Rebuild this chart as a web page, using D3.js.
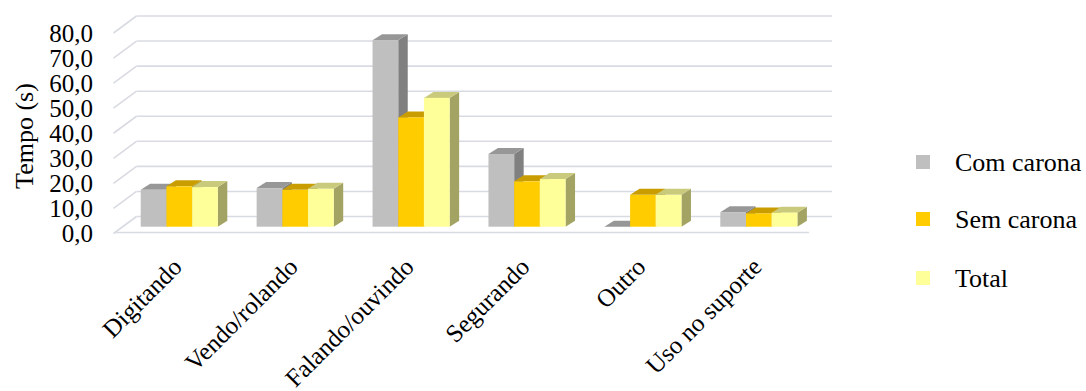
<!DOCTYPE html>
<html>
<head>
<meta charset="utf-8">
<script src="https://cdn.jsdelivr.net/npm/d3@7"></script>
<style>
  html, body { margin: 0; padding: 0; background: #fff; }
  svg { display: block; }
</style>
</head>
<body>
<svg id="chart" width="1086" height="391"></svg>
<script>
// Activity categories and mean times (s) per group
const categories = ["Digitando", "Vendo/rolando", "Falando/ouvindo", "Segurando", "Outro", "Uso no suporte"];
const seriesNames = ["Com carona", "Sem carona", "Total"];
const comCarona = [14.7, 15.4, 74.4, 29.0, 0.0, 5.8];
const semCarona = [16.1, 14.7, 43.6, 18.1, 12.7, 5.3];
const total     = [15.8, 15.1, 51.4, 19.0, 12.7, 5.6];
const yTicks = [0, 10, 20, 30, 40, 50, 60, 70, 80];

const seriesValues = [comCarona, semCarona, total];
const faceColors = [
  { front: "#BFBFBF", top: "#979797", side: "#808080" },
  { front: "#FFCC00", top: "#C99D00", side: "#A38300" },
  { front: "#FFFF99", top: "#CACA7C", side: "#A3A363" }
];

const FONT = "'Liberation Serif'";

const svg = d3.select("#chart");

// Oblique 3D frame: back wall, side wall depth, bar depth
const wall = { left: 136.5, right: 832, bottom: 216.5, top: 16 };
const depth = { dx: 23, dy: 17 };          // full floor depth
const barDepth = { dx: 9.5, dy: 6 };       // depth of each column
const barBack = { dx: -5.7, dy: 4.2 };     // column back plane relative to back wall

const yBack = d3.scaleLinear().domain([0, 80]).range([wall.bottom, wall.top]);
const x0 = d3.scaleBand().domain(categories).range([wall.left, wall.right])
  .paddingInner(0.335).paddingOuter(0.1675);
const x1 = d3.scaleBand().domain(seriesNames).range([0, x0.bandwidth()]);

const gridColor = "#D9DBE2";
const grid = svg.append("g");

// Back wall gridlines
grid.selectAll("line.back").data(yTicks).join("line")
  .attr("x1", wall.left).attr("x2", wall.right)
  .attr("y1", d => yBack(d)).attr("y2", d => yBack(d))
  .attr("stroke", gridColor).attr("stroke-width", 1.6);

// Side wall gridlines
grid.selectAll("line.side").data(yTicks).join("line")
  .attr("x1", wall.left - depth.dx).attr("y1", d => yBack(d) + depth.dy)
  .attr("x2", wall.left).attr("y2", d => yBack(d))
  .attr("stroke", gridColor).attr("stroke-width", 1.6);

// Floor front edge
grid.append("line")
  .attr("x1", wall.left - depth.dx + 1).attr("x2", wall.right - depth.dx)
  .attr("y1", yBack(0) + 16).attr("y2", yBack(0) + 16)
  .attr("stroke", gridColor).attr("stroke-width", 1.6);

function styleText(size) {
  return sel => sel.style("font-family", FONT).style("font-size", size + "px").attr("fill", "#000");
}

// Y tick labels, on the front edge of the side wall
svg.append("g").selectAll("text").data(yTicks).join("text")
  .attr("x", 93).attr("y", d => yBack(d) + depth.dy)
  .attr("dy", "0.35em").attr("text-anchor", "end")
  .call(styleText(25))
  .text(d => d3.format(".1f")(d).replace(".", ","));

// Y axis title
svg.append("text")
  .attr("transform", "translate(33,136) rotate(-90)")
  .attr("text-anchor", "middle")
  .call(styleText(26))
  .text("Tempo (s)");

// Columns, drawn left to right so each front face hides its neighbour's side
const bars = svg.append("g");
const pxPerUnit = yBack(0) - yBack(1);
categories.forEach((cat, ci) => {
  seriesNames.forEach((s, si) => {
    const v = seriesValues[si][ci];
    const bx = x0(cat) + x1(s) + barBack.dx;       // back-left x
    const by0 = yBack(0) + barBack.dy;              // back bottom y
    const w = x1.bandwidth();
    const h = v * pxPerUnit;
    const fx = bx - barDepth.dx, fy0 = by0 + barDepth.dy;  // front-left, front bottom
    const c = faceColors[si];
    const g = bars.append("g");
    // right side face
    g.append("path")
      .attr("d", `M${fx + w},${fy0} L${bx + w},${by0} L${bx + w},${by0 - h} L${fx + w},${fy0 - h} Z`)
      .attr("fill", c.side);
    // top face
    g.append("path")
      .attr("d", `M${fx},${fy0 - h} L${bx},${by0 - h} L${bx + w},${by0 - h} L${fx + w},${fy0 - h} Z`)
      .attr("fill", c.top);
    // front face
    g.append("rect")
      .attr("x", fx).attr("y", fy0 - h).attr("width", w).attr("height", h)
      .attr("fill", c.front);
  });
});

// Category labels, rotated 45 degrees
svg.append("g").selectAll("text").data(categories).join("text")
  .attr("text-anchor", "end")
  .call(styleText(25))
  .attr("transform", d => {
    const cx = x0(d) + x0.bandwidth() / 2 - depth.dx + 12;
    return `translate(${cx},${wall.bottom + 52}) rotate(-45)`;
  })
  .text(d => d);

// Legend
const legend = svg.append("g");
const legendY = [162, 219, 278];
seriesNames.forEach((s, i) => {
  legend.append("rect")
    .attr("x", 916).attr("y", legendY[i] - 7).attr("width", 14).attr("height", 14)
    .attr("fill", faceColors[i].front);
  legend.append("text")
    .attr("x", 955).attr("y", legendY[i]).attr("dy", "0.35em")
    .call(styleText(26))
    .text(s);
});
</script>
</body>
</html>
